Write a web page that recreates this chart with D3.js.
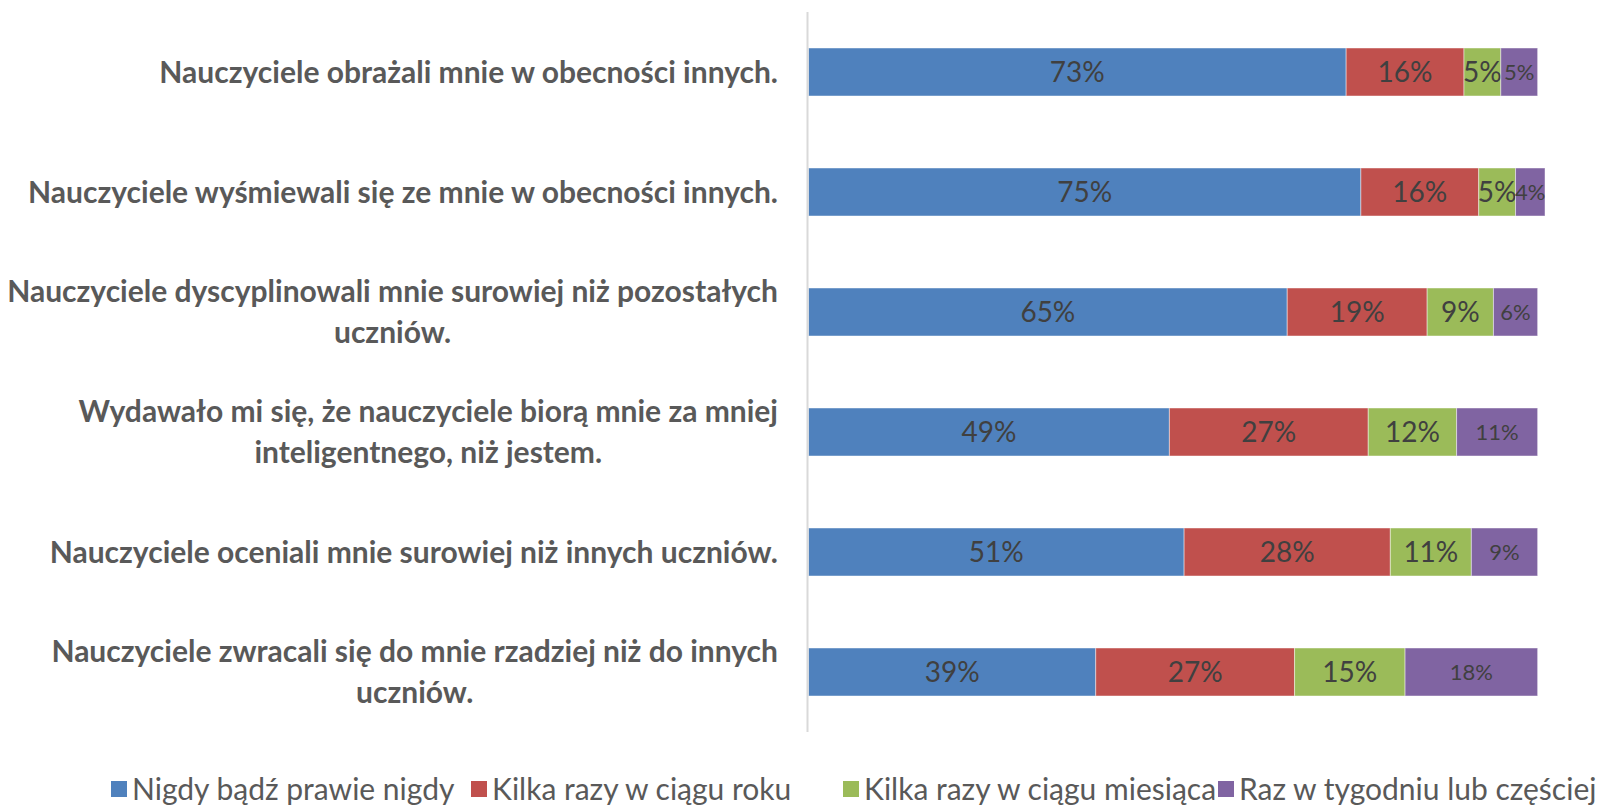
<!DOCTYPE html>
<head>
	<meta charset="utf-8">
	<title>Nauczyciele - stacked bars</title>
	<script src="https://cdn.jsdelivr.net/npm/d3@7"></script>
	<style>
		body { margin: 0; background: #fff; }
		svg { display: block; font-family: Lato, "Noto Sans", sans-serif; }
	</style>
</head>

<body>
	<div id="chart"></div>

  <script>
	// categories, top to bottom (line breaks as in the original)
	var categories = [
		["Nauczyciele obrażali mnie w obecności innych."],
		["Nauczyciele wyśmiewali się ze mnie w obecności innych."],
		["Nauczyciele dyscyplinowali mnie surowiej niż pozostałych", "uczniów."],
		["Wydawało mi się, że nauczyciele biorą mnie za mniej", "inteligentnego, niż jestem."],
		["Nauczyciele oceniali mnie surowiej niż innych uczniów."],
		["Nauczyciele zwracali się do mnie rzadziej niż do innych", "uczniów."]
	];
	var seriesNames = ["Nigdy bądź prawie nigdy", "Kilka razy w ciągu roku", "Kilka razy w ciągu miesiąca", "Raz w tygodniu lub częściej"];
	var nigdy    = [73, 75, 65, 49, 51, 39];
	var wRoku    = [16, 16, 19, 27, 28, 27];
	var wMiesiac = [5, 5, 9, 12, 11, 15];
	var coTydzien = [5, 4, 6, 11, 9, 18];
	var colors = ["#4f81bd", "#c0504d", "#9bbb59", "#8064a2"];

	var width = 1622, height = 806;
	var svg = d3.select("#chart").append("svg")
		.attr("width", width)
		.attr("height", height);

	var rows = categories.map(function (c, i) {
		return { key: i, lines: c, v: [nigdy[i], wRoku[i], wMiesiac[i], coTydzien[i]] };
	});

	var y = d3.scaleBand()
		.domain(rows.map(function (d) { return d.key; }))
		.range([12, 732])
		.paddingInner(0.6)
		.paddingOuter(0.3);

	var x = d3.scaleLinear().domain([0, 100]).range([808.5, 1545]);

	// stack the series
	var stackData = rows.map(function (r) {
		var o = { key: r.key };
		r.v.forEach(function (v, j) { o["s" + j] = v; });
		return o;
	});
	var stack = d3.stack().keys(["s0", "s1", "s2", "s3"])(stackData);

	var groups = svg.selectAll("g.series").data(stack).enter().append("g")
		.attr("class", "series")
		.attr("fill", function (d, i) { return colors[i]; });

	groups.selectAll("rect").data(function (d) { return d; }).enter().append("rect")
		.attr("x", function (d) { return x(d[0]); })
		.attr("width", function (d) { return x(d[1]) - x(d[0]); })
		.attr("y", function (d) { return y(d.data.key); })
		.attr("height", y.bandwidth())
		.attr("stroke", "rgba(255,255,255,0.45)")
		.attr("stroke-width", 1);

	groups.selectAll("text").data(function (d) { return d; }).enter().append("text")
		.attr("x", function (d) { return (x(d[0]) + x(d[1])) / 2; })
		.attr("y", function (d) { return y(d.data.key) + y.bandwidth() / 2; })
		.attr("dy", "0.36em")
		.attr("text-anchor", "middle")
		.attr("fill", "#404040")
		.style("font-size", function () { return this.parentNode.__data__.index === 3 ? "22px" : "28px"; })
		.text(function (d) { return (d[1] - d[0]) + "%"; });

	// vertical axis line
	svg.append("line")
		.attr("x1", 807.5).attr("x2", 807.5)
		.attr("y1", 12).attr("y2", 732)
		.attr("stroke", "#d9d9d9")
		.attr("stroke-width", 2);

	// category labels, lines centred in a right-aligned block
	var labelRight = 778, lineH = 41;
	rows.forEach(function (r) {
		var g = svg.append("g");
		var cy = y(r.key) + y.bandwidth() / 2;
		var n = r.lines.length;
		var texts = r.lines.map(function (ln, k) {
			return g.append("text")
				.attr("y", cy + (k - (n - 1) / 2) * lineH)
				.attr("dy", "0.36em")
				.attr("text-anchor", "middle")
				.attr("fill", "#595959")
				.style("font-size", "30px")
				.style("font-weight", "bold")
				.text(ln);
		});
		var maxW = d3.max(texts, function (t) { return t.node().getComputedTextLength(); });
		texts.forEach(function (t) { t.attr("x", labelRight - maxW / 2); });
	});

	// legend
	var legendX = [111, 471, 843, 1218];
	var legend = svg.selectAll("g.legend").data(seriesNames).enter().append("g")
		.attr("class", "legend")
		.attr("transform", function (d, i) { return "translate(" + legendX[i] + ",789)"; });
	legend.append("rect")
		.attr("x", 0).attr("y", -8)
		.attr("width", 16).attr("height", 16)
		.attr("fill", function (d, i) { return colors[i]; });
	legend.append("text")
		.attr("x", 21)
		.attr("dy", "0.36em")
		.attr("fill", "#595959")
		.style("font-size", "30px")
		.text(function (d) { return d; });
	</script>
</body>
</html>
